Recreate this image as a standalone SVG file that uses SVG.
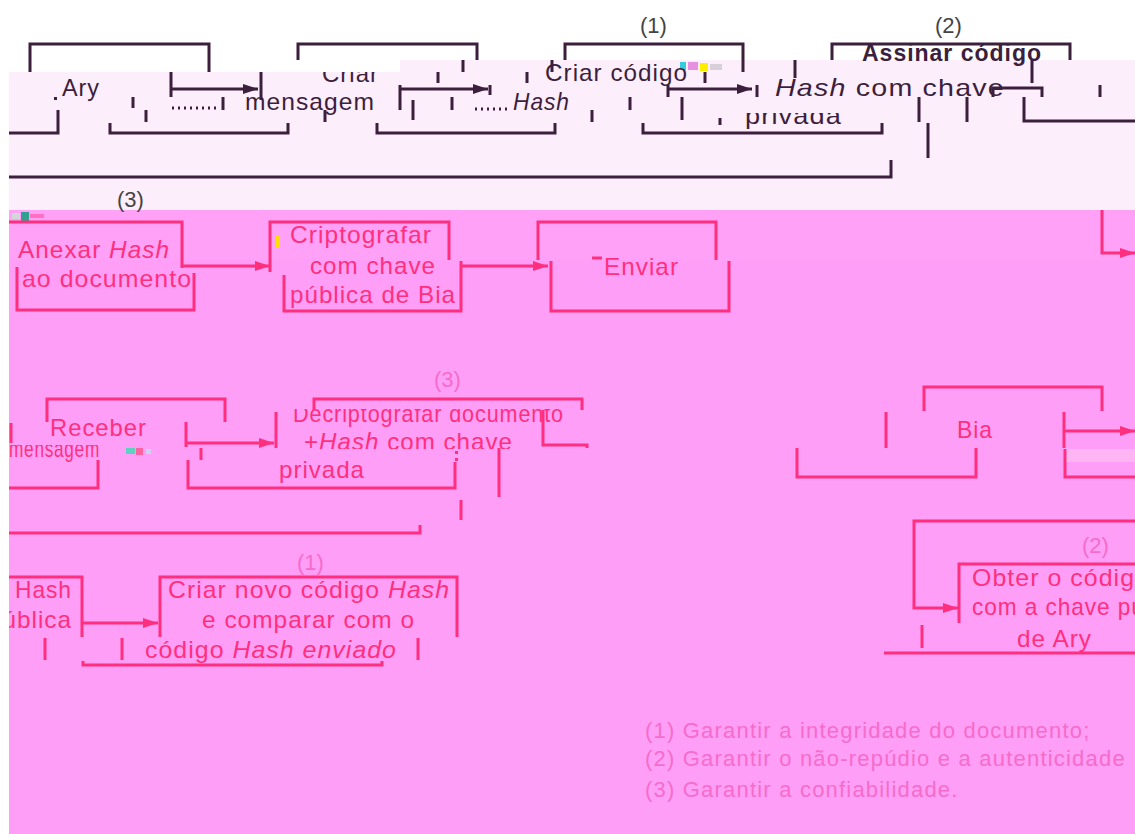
<svg xmlns="http://www.w3.org/2000/svg" width="1135" height="834" viewBox="0 0 1135 834">
<style>
.dk{stroke:#3c1f3c;stroke-width:3;fill:none}
.pk{stroke:#ff2f80;stroke-width:3;fill:none}
.t{font-family:"Liberation Sans",Arial,sans-serif;font-size:24px;letter-spacing:1px}
.d{fill:#3c1f3c}
.p{fill:#ff2f80}
.n{font-family:"Liberation Sans",Arial,sans-serif;font-size:22px;fill:#444}
.np{font-family:"Liberation Sans",Arial,sans-serif;font-size:22px;fill:#f56ccb}
.lg{font-family:"Liberation Sans",Arial,sans-serif;font-size:22px;fill:#f56ccb;letter-spacing:1.2px}
.i{font-style:italic}
</style>
<defs>
<marker id="ad" markerUnits="userSpaceOnUse" markerWidth="16" markerHeight="12" refX="15" refY="6" orient="auto"><path d="M0,1 L15,6 L0,11 z" fill="#3c1f3c"/></marker>
<marker id="ap" markerUnits="userSpaceOnUse" markerWidth="16" markerHeight="12" refX="15" refY="6" orient="auto"><path d="M0,1 L15,6 L0,11 z" fill="#ff2f80"/></marker>
<clipPath id="cBand"><rect x="0" y="72" width="1135" height="140"/></clipPath>
<clipPath id="cPriv"><rect x="700" y="113" width="200" height="20"/></clipPath>
<clipPath id="cDec"><rect x="280" y="409" width="300" height="20"/></clipPath>
<clipPath id="cHash"><rect x="280" y="425" width="260" height="24"/></clipPath>
<clipPath id="cMen"><rect x="0" y="445" width="120" height="20"/></clipPath>
</defs>

<g id="background">
<rect x="0" y="0" width="1135" height="834" fill="#ffffff"/>
<rect x="9" y="72" width="391" height="138" fill="#fdeefc"/>
<rect x="400" y="60" width="735" height="150" fill="#fdeefc"/>
<rect x="9" y="210" width="1126" height="624" fill="#ff9ef6"/>
<rect x="9" y="210" width="1126" height="50" fill="#ffa1f6"/>
<rect x="1066" y="449" width="69" height="13" fill="#ffb4f4"/>
</g>

<g id="noise">
<rect x="680" y="62" width="6" height="8" fill="#33ccdd"/>
<rect x="688" y="62" width="10" height="8" fill="#e890e0"/>
<rect x="700" y="63" width="8" height="8" fill="#ffee00"/>
<rect x="710" y="64" width="12" height="6" fill="#d8d0d8"/>
<rect x="12" y="213" width="8" height="6" fill="#d0d8d8"/>
<rect x="21" y="212" width="8" height="9" fill="#30a090"/>
<rect x="30" y="214" width="14" height="4" fill="#ff70c0"/>
<rect x="276" y="236" width="4" height="12" fill="#ffe000"/>
<rect x="126" y="448" width="9" height="6" fill="#60d0c0"/>
<rect x="136" y="448" width="7" height="7" fill="#ff60a0"/>
<rect x="146" y="449" width="5" height="5" fill="#d0d0f0"/>
<rect x="455" y="451" width="3" height="3" fill="#ff2f80"/>
<rect x="455" y="458" width="3" height="3" fill="#ff2f80"/>
</g>

<g id="node-ary">
<path class="dk" d="M30,72 V44 H209 V72"/>
<text class="t d" x="62" y="96" textLength="38" lengthAdjust="spacingAndGlyphs">Ary</text>
<rect x="54" y="97" width="3" height="3" fill="#3c1f3c"/>
<path class="dk" d="M9,133 H58 V110"/>
</g>

<g id="node-criar-mensagem">
<path class="dk" d="M298,60 V44 H477 V60"/>
<text class="t d" x="322" y="82" clip-path="url(#cBand)">Criar</text>
<text class="t d" x="245" y="110" textLength="130" lengthAdjust="spacingAndGlyphs">mensagem</text>
<path class="dk" d="M172,108 H220" stroke-dasharray="2 4" stroke-width="2"/>
<path class="dk" d="M110,123 V133 H288 V123"/>
</g>

<g id="node-criar-hash">
<path class="dk" d="M565,60 V44 H743 V72"/>
<text class="t d" x="545" y="81" textLength="143" lengthAdjust="spacingAndGlyphs">Criar código</text>
<path class="dk" d="M475,109 H508" stroke-dasharray="2 4" stroke-width="2"/>
<text class="t d i" x="513" y="110" textLength="57" lengthAdjust="spacingAndGlyphs">Hash</text>
<path class="dk" d="M377,123 V133 H555 V123"/>
</g>

<g id="node-assinar">
<path class="dk" d="M832,60 V44 H1070 V60"/>
<text class="t d" x="862" y="61" font-weight="bold" textLength="180" lengthAdjust="spacingAndGlyphs">Assinar código</text>
<text class="t d" x="775" y="96" textLength="230" lengthAdjust="spacingAndGlyphs"><tspan class="i">Hash</tspan> com chave</text>
<text class="t d" x="745" y="124" textLength="97" lengthAdjust="spacingAndGlyphs" clip-path="url(#cPriv)">privada</text>
<path class="dk" d="M643,123 V133 H882 V123"/>
</g>

<text class="n" x="640" y="33">(1)</text>
<text class="n" x="935" y="33">(2)</text>
<text class="n" x="117" y="207">(3)</text>

<g id="node-anexar">
<path class="pk" d="M9,222 H182 V268"/>
<path class="pk" d="M17,267 V310 H194 V273"/>
<text class="t p" x="18" y="258" textLength="152" lengthAdjust="spacingAndGlyphs">Anexar <tspan class="i">Hash</tspan></text>
<text class="t p" x="22" y="287" textLength="170" lengthAdjust="spacingAndGlyphs">ao documento</text>
</g>

<g id="node-criptografar">
<path class="pk" d="M270,272 V222 H449 V260"/>
<path class="pk" d="M284,275 V311 H461 V261"/>
<text class="t p" x="290" y="243" textLength="142" lengthAdjust="spacingAndGlyphs">Criptografar</text>
<text class="t p" x="310" y="274" textLength="126" lengthAdjust="spacingAndGlyphs">com chave</text>
<text class="t p" x="290" y="303" textLength="166" lengthAdjust="spacingAndGlyphs">pública de Bia</text>
</g>

<g id="node-enviar">
<path class="pk" d="M538,260 V222 H716 V260"/>
<path class="pk" d="M551,261 V311 H729 V261"/>
<path class="pk" d="M592,258 H602" stroke-width="2"/>
<text class="t p" x="604" y="275" textLength="75" lengthAdjust="spacingAndGlyphs">Enviar</text>
</g>

<g id="node-receber">
<path class="pk" d="M47,422 V399 H225 V422"/>
<text class="t p" x="50" y="436" textLength="97" lengthAdjust="spacingAndGlyphs">Receber</text>
<text class="t p" x="9" y="457" textLength="91" lengthAdjust="spacingAndGlyphs" clip-path="url(#cMen)">mensagem</text>
<path class="pk" d="M9,488 H98 V460"/>
<path class="pk" d="M11,423 V443"/>
</g>

<g id="node-decriptografar">
<path class="pk" d="M314,410 V399 H582 V410"/>
<path class="pk" d="M276,412 V448"/>
<path class="pk" d="M543,410 V445 H587 V448"/>
<text class="t p" x="293" y="422" textLength="271" lengthAdjust="spacingAndGlyphs" clip-path="url(#cDec)">Decriptografar documento</text>
<text class="t p" x="304" y="450" textLength="209" lengthAdjust="spacingAndGlyphs" clip-path="url(#cHash)">+<tspan class="i">Hash</tspan> com chave</text>
<text class="t p" x="279" y="478" textLength="86" lengthAdjust="spacingAndGlyphs">privada</text>
<path class="pk" d="M188,460 V488 H455 V462"/>
</g>
<text class="np" x="434" y="387">(3)</text>

<g id="node-bia">
<path class="pk" d="M924,411 V387 H1102 V411"/>
<path class="pk" d="M886,412 V448"/>
<path class="pk" d="M1064,412 V448"/>
<text class="t p" x="957" y="438" textLength="36" lengthAdjust="spacingAndGlyphs">Bia</text>
<path class="pk" d="M797,448 V477 H976 V448"/>
<path class="pk" d="M1065,449 V477 H1135"/>
</g>

<g id="node-obter">
<text class="np" x="1082" y="553">(2)</text>
<path class="pk" d="M959,623 V564 H1135"/>
<text class="t p" x="972" y="586" textLength="178" lengthAdjust="spacingAndGlyphs">Obter o código</text>
<text class="t p" x="972" y="615" textLength="224" lengthAdjust="spacingAndGlyphs">com a chave pública</text>
<text class="t p" x="1017" y="647" textLength="75" lengthAdjust="spacingAndGlyphs">de Ary</text>
<path class="pk" d="M922,625 V648"/>
<path class="pk" d="M884,653 H1135"/>
</g>

<g id="node-hash-publica">
<path class="pk" d="M9,577 H82 V637"/>
<text class="t p" x="15" y="598" textLength="57" lengthAdjust="spacingAndGlyphs">Hash</text>
<text class="t p" x="-12" y="628" textLength="84" lengthAdjust="spacingAndGlyphs">pública</text>
<path class="pk" d="M45,638 V660"/>
</g>

<g id="node-criar-novo">
<text class="np" x="297" y="570">(1)</text>
<path class="pk" d="M160,637 V577 H457 V637"/>
<text class="t p" x="168" y="598" textLength="282" lengthAdjust="spacingAndGlyphs">Criar novo código <tspan class="i">Hash</tspan></text>
<text class="t p" x="202" y="628" textLength="213" lengthAdjust="spacingAndGlyphs">e comparar com o</text>
<text class="t p" x="145" y="658" textLength="252" lengthAdjust="spacingAndGlyphs">código <tspan class="i">Hash enviado</tspan></text>
<path class="pk" d="M122,638 V660"/>
<path class="pk" d="M418,638 V660"/>
<path class="pk" d="M83,661 V665 H382 V661"/>
</g>

<g id="connectors">
<path class="dk" d="M171,89 H258" marker-end="url(#ad)"/>
<path class="dk" d="M400,89 H488" marker-end="url(#ad)"/>
<path class="dk" d="M668,89 H752" marker-end="url(#ad)"/>
<path class="dk" d="M171,72 V97 M261,72 V100 M133,97 V108 M146,110 V122 M223,97 V110 M325,110 V122 M400,85 V110 M463,60 V72 M438,72 V83 M490,85 V95 M413,100 V120 M452,97 V110 M527,72 V83 M552,60 V72 M592,110 V122 M630,97 V110 M705,72 V83 M668,85 V97 M757,85 V97 M682,97 V120 M720,118 V125 M795,60 V78 M1032,60 V83 M1100,85 V97 M919,97 V122 M967,97 V122 M928,123 V158"/>
<path class="dk" d="M993,97 V88 H1042 V97"/>
<path class="dk" d="M1024,97 V121 H1135"/>
<path class="dk" d="M9,177 H891 V160"/>
<path class="pk" d="M182,266 H270" marker-end="url(#ap)"/>
<path class="pk" d="M461,266 H548" marker-end="url(#ap)"/>
<path class="pk" d="M1102,210 V253 H1135" marker-end="url(#ap)"/>
<path class="pk" d="M186,443 H274" marker-end="url(#ap)"/>
<path class="pk" d="M186,422 V447 M201,448 V460 M499,448 V497 M461,500 V520"/>
<path class="pk" d="M9,533 H420 V525"/>
<path class="pk" d="M1064,431 H1135" marker-end="url(#ap)"/>
<path class="pk" d="M1135,521 H914 V608 H958" marker-end="url(#ap)"/>
<path class="pk" d="M82,623 H158" marker-end="url(#ap)"/>
</g>

<g id="legend">
<text class="lg" x="645" y="738">(1) Garantir a integridade do documento;</text>
<text class="lg" x="645" y="766">(2) Garantir o não-repúdio e a autenticidade</text>
<text class="lg" x="645" y="797">(3) Garantir a confiabilidade.</text>
</g>

<rect x="0" y="0" width="9" height="834" fill="#ffffff"/>
</svg>
